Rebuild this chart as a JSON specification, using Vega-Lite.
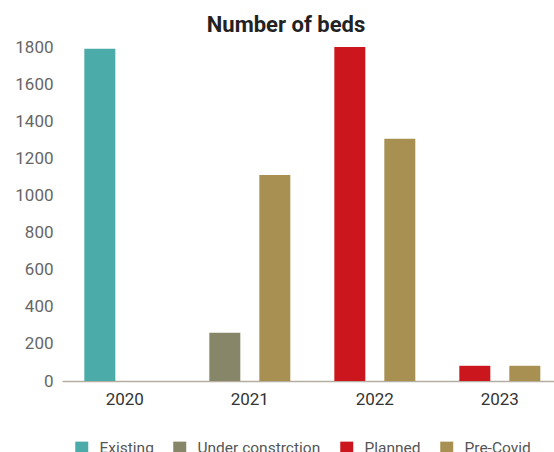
{
  "$schema": "https://vega.github.io/schema/vega-lite/v6.json",
  "autosize": {"type": "none"},
  "padding": {"left": 62, "top": 47, "right": 0, "bottom": 71},
  "width": 492,
  "height": 334,
  "title": {
    "text": "Number of beds",
    "font": "Roboto",
    "fontSize": 22,
    "fontWeight": "bold",
    "color": "#222222",
    "anchor": "middle",
    "dx": -22,
    "offset": 1
  },
  "config": {
    "font": "Roboto",
    "view": {"stroke": null},
    "axisX": {
      "domainColor": "#b3ae9f",
      "domainWidth": 1.5,
      "ticks": false,
      "grid": false,
      "labelAngle": 0,
      "labelColor": "#333333",
      "labelFontSize": 17,
      "labelPadding": 10,
      "title": null
    },
    "axisY": {
      "domain": false,
      "ticks": false,
      "grid": false,
      "labelColor": "#666666",
      "labelFontSize": 17,
      "labelPadding": 9,
      "title": null
    }
  },
  "data": {
    "values": [
      {"year": "2020", "status": "Existing", "estimate": "Current", "beds": 1790},
      {"year": "2021", "status": "Under constrction", "estimate": "Current", "beds": 260},
      {"year": "2021", "status": "Pre-Covid", "estimate": "Pre-Covid", "beds": 1110},
      {"year": "2022", "status": "Planned", "estimate": "Current", "beds": 1800},
      {"year": "2022", "status": "Pre-Covid", "estimate": "Pre-Covid", "beds": 1305},
      {"year": "2023", "status": "Planned", "estimate": "Current", "beds": 82},
      {"year": "2023", "status": "Pre-Covid", "estimate": "Pre-Covid", "beds": 82}
    ]
  },
  "mark": {"type": "bar"},
  "encoding": {
    "x": {
      "field": "year",
      "type": "nominal",
      "scale": {"paddingInner": 0.352, "paddingOuter": 0.144, "align": 0.62}
    },
    "xOffset": {
      "field": "estimate",
      "type": "nominal",
      "scale": {"domain": ["Current", "Pre-Covid"], "paddingInner": 0.38, "paddingOuter": 0}
    },
    "y": {
      "field": "beds",
      "type": "quantitative",
      "scale": {"domain": [0, 1800], "nice": false},
      "axis": {"values": [0, 200, 400, 600, 800, 1000, 1200, 1400, 1600, 1800], "format": "d"}
    },
    "color": {
      "field": "status",
      "type": "nominal",
      "scale": {
        "domain": ["Existing", "Under constrction", "Planned", "Pre-Covid"],
        "range": ["#4baba8", "#888669", "#cc161e", "#a89052"]
      },
      "legend": {
        "title": null,
        "orient": "none",
        "direction": "horizontal",
        "legendX": 12,
        "legendY": 393,
        "padding": 0,
        "symbolType": "square",
        "symbolSize": 169,
        "symbolStrokeWidth": 0,
        "labelFontSize": 15.5,
        "labelColor": "#555555",
        "labelOffset": 10,
        "columnPadding": 18
      }
    }
  }
}
